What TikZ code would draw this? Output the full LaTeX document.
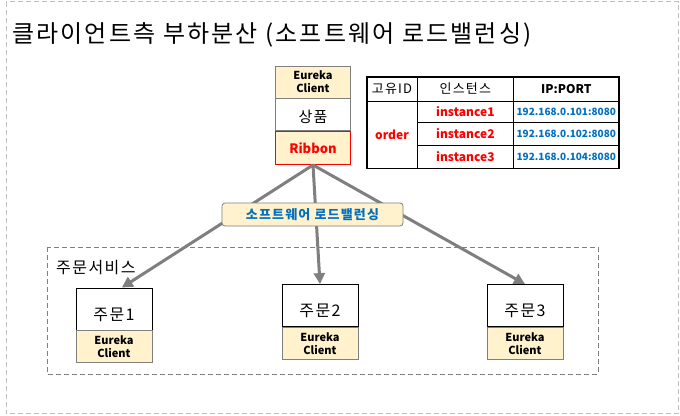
\documentclass[tikz,border=0pt]{standalone}
\usepackage{fontspec}
\setmainfont{Noto Sans CJK KR}
\newfontfamily\kr{Noto Sans CJK KR}[LetterSpace=9]
\usepackage{xcolor}
\usetikzlibrary{arrows.meta,positioning}
\definecolor{ekfill}{RGB}{255,242,204}
\definecolor{edge}{RGB}{127,127,127}
\definecolor{ipblue}{RGB}{0,112,192}
\definecolor{framegray}{RGB}{191,191,191}

\begin{document}
\begin{tikzpicture}[x=1pt,y=-1pt,
 box/.style={draw=edge,line width=0.8pt,inner sep=0pt,align=center},
 ekbox/.style={box,fill=ekfill,font=\fontsize{11}{13}\selectfont\bfseries},
 svc/.style={box,draw=black,fill=white,text height=22pt,text depth=0pt,font=\kr\fontsize{16}{18}\selectfont},
 cell/.style={inner sep=0pt,font=\kr\fontsize{13}{15}\selectfont},
 inst/.style={cell,text=red,font=\fontsize{12}{14}\selectfont\bfseries},
 ipc/.style={cell,text=ipblue,font=\fontsize{10}{12}\selectfont\bfseries},
 thk/.style={line width=1.4pt},
 thn/.style={line width=0.7pt},
 arr/.style={draw=edge,line width=3pt,-{Triangle[length=11pt,width=11pt]}},
 lab/.style={anchor=west,inner sep=0pt}]
 \useasboundingbox (0,0) rectangle (680,415);
 % frames
 \draw[framegray,line width=1pt,dash pattern=on 5pt off 3pt] (6,1.5) rectangle (678.5,413.5);
 \draw[edge,line width=1pt,dash pattern=on 5pt off 3pt] (47,247) rectangle (598,374);
 \node[lab,font=\kr\fontsize{24}{28}\selectfont] (title) at (12,35) {클라이언트측 부하분산 (소프트웨어 로드밸런싱)};
 \node[lab,font=\kr\fontsize{16}{18}\selectfont] (svcname) at (56,268) {주문서비스};
 % client stack
 \node[ekbox,minimum width=75pt,minimum height=32pt] (ek) at (313,82) {Eureka\\Client};
 \node[box,fill=white,minimum width=75pt,minimum height=32pt,below=0pt of ek,text height=15pt,text depth=0pt,font=\kr\fontsize{15}{17}\selectfont] (prod) {상품};
 \node[box,draw=red,fill=ekfill,minimum width=75pt,minimum height=33pt,below=0pt of prod,text=red,font=\fontsize{13}{15}\selectfont\bfseries] (rib) {Ribbon};
 % order services
 \foreach \n/\x/\y in {1/114/309,2/320/305.5,3/525/305.5} {
  \node[svc,minimum width=76pt,minimum height=42pt] (o\n) at (\x,\y) {주문\n};
  \node[ekbox,minimum width=76pt,minimum height=32pt,below=0pt of o\n] (e\n) {Eureka\\Client};
 }
 \draw[arr] (rib.south) -- (o1.70);
 \draw[arr] (rib.south) -- (o2.north);
 \draw[arr] (rib.south) -- (o3.north);
 \node[box,rounded corners=3pt,fill=ekfill,minimum width=181pt,minimum height=23pt,text=ipblue,font=\kr\fontsize{13}{15}\selectfont\bfseries] (lb) at (312.5,214.5) {소프트웨어 로드밸런싱};
 % instance table
 \node[cell,minimum width=50pt,minimum height=24pt] (h1) at (392,89) {고유ID};
 \node[cell,minimum width=96pt,minimum height=24pt,right=0pt of h1] (h2) {인스턴스};
 \node[cell,minimum width=105pt,minimum height=24pt,right=0pt of h2,font=\fontsize{12}{14}\selectfont\bfseries] (h3) {IP:PORT};
 \node[inst,minimum width=50pt,minimum height=66pt,below=0pt of h1] (ord) {order};
 \node[inst,minimum width=96pt,minimum height=21pt,below=0pt of h2] (i1) {instance1};
 \node[inst,minimum width=96pt,minimum height=22pt,below=0pt of i1] (i2) {instance2};
 \node[inst,minimum width=96pt,minimum height=23pt,below=0pt of i2] (i3) {instance3};
 \node[ipc,minimum width=105pt,minimum height=21pt,right=0pt of i1] (p1) {192.168.0.101:8080};
 \node[ipc,minimum width=105pt,minimum height=22pt,right=0pt of i2] (p2) {192.168.0.102:8080};
 \node[ipc,minimum width=105pt,minimum height=23pt,right=0pt of i3] (p3) {192.168.0.104:8080};
 \draw[thn] (i1.south west) -- (p1.south east);
 \draw[thn] (i2.south west) -- (p2.south east);
 \draw[thk] (h1.south west) -- (h3.south east);
 \draw[thk] (h1.north east) -- (ord.south east);
 \draw[thk] (h2.north east) -- (i3.south east);
 \draw[thk] (h1.north west) rectangle (p3.south east);
\end{tikzpicture}
\end{document}
